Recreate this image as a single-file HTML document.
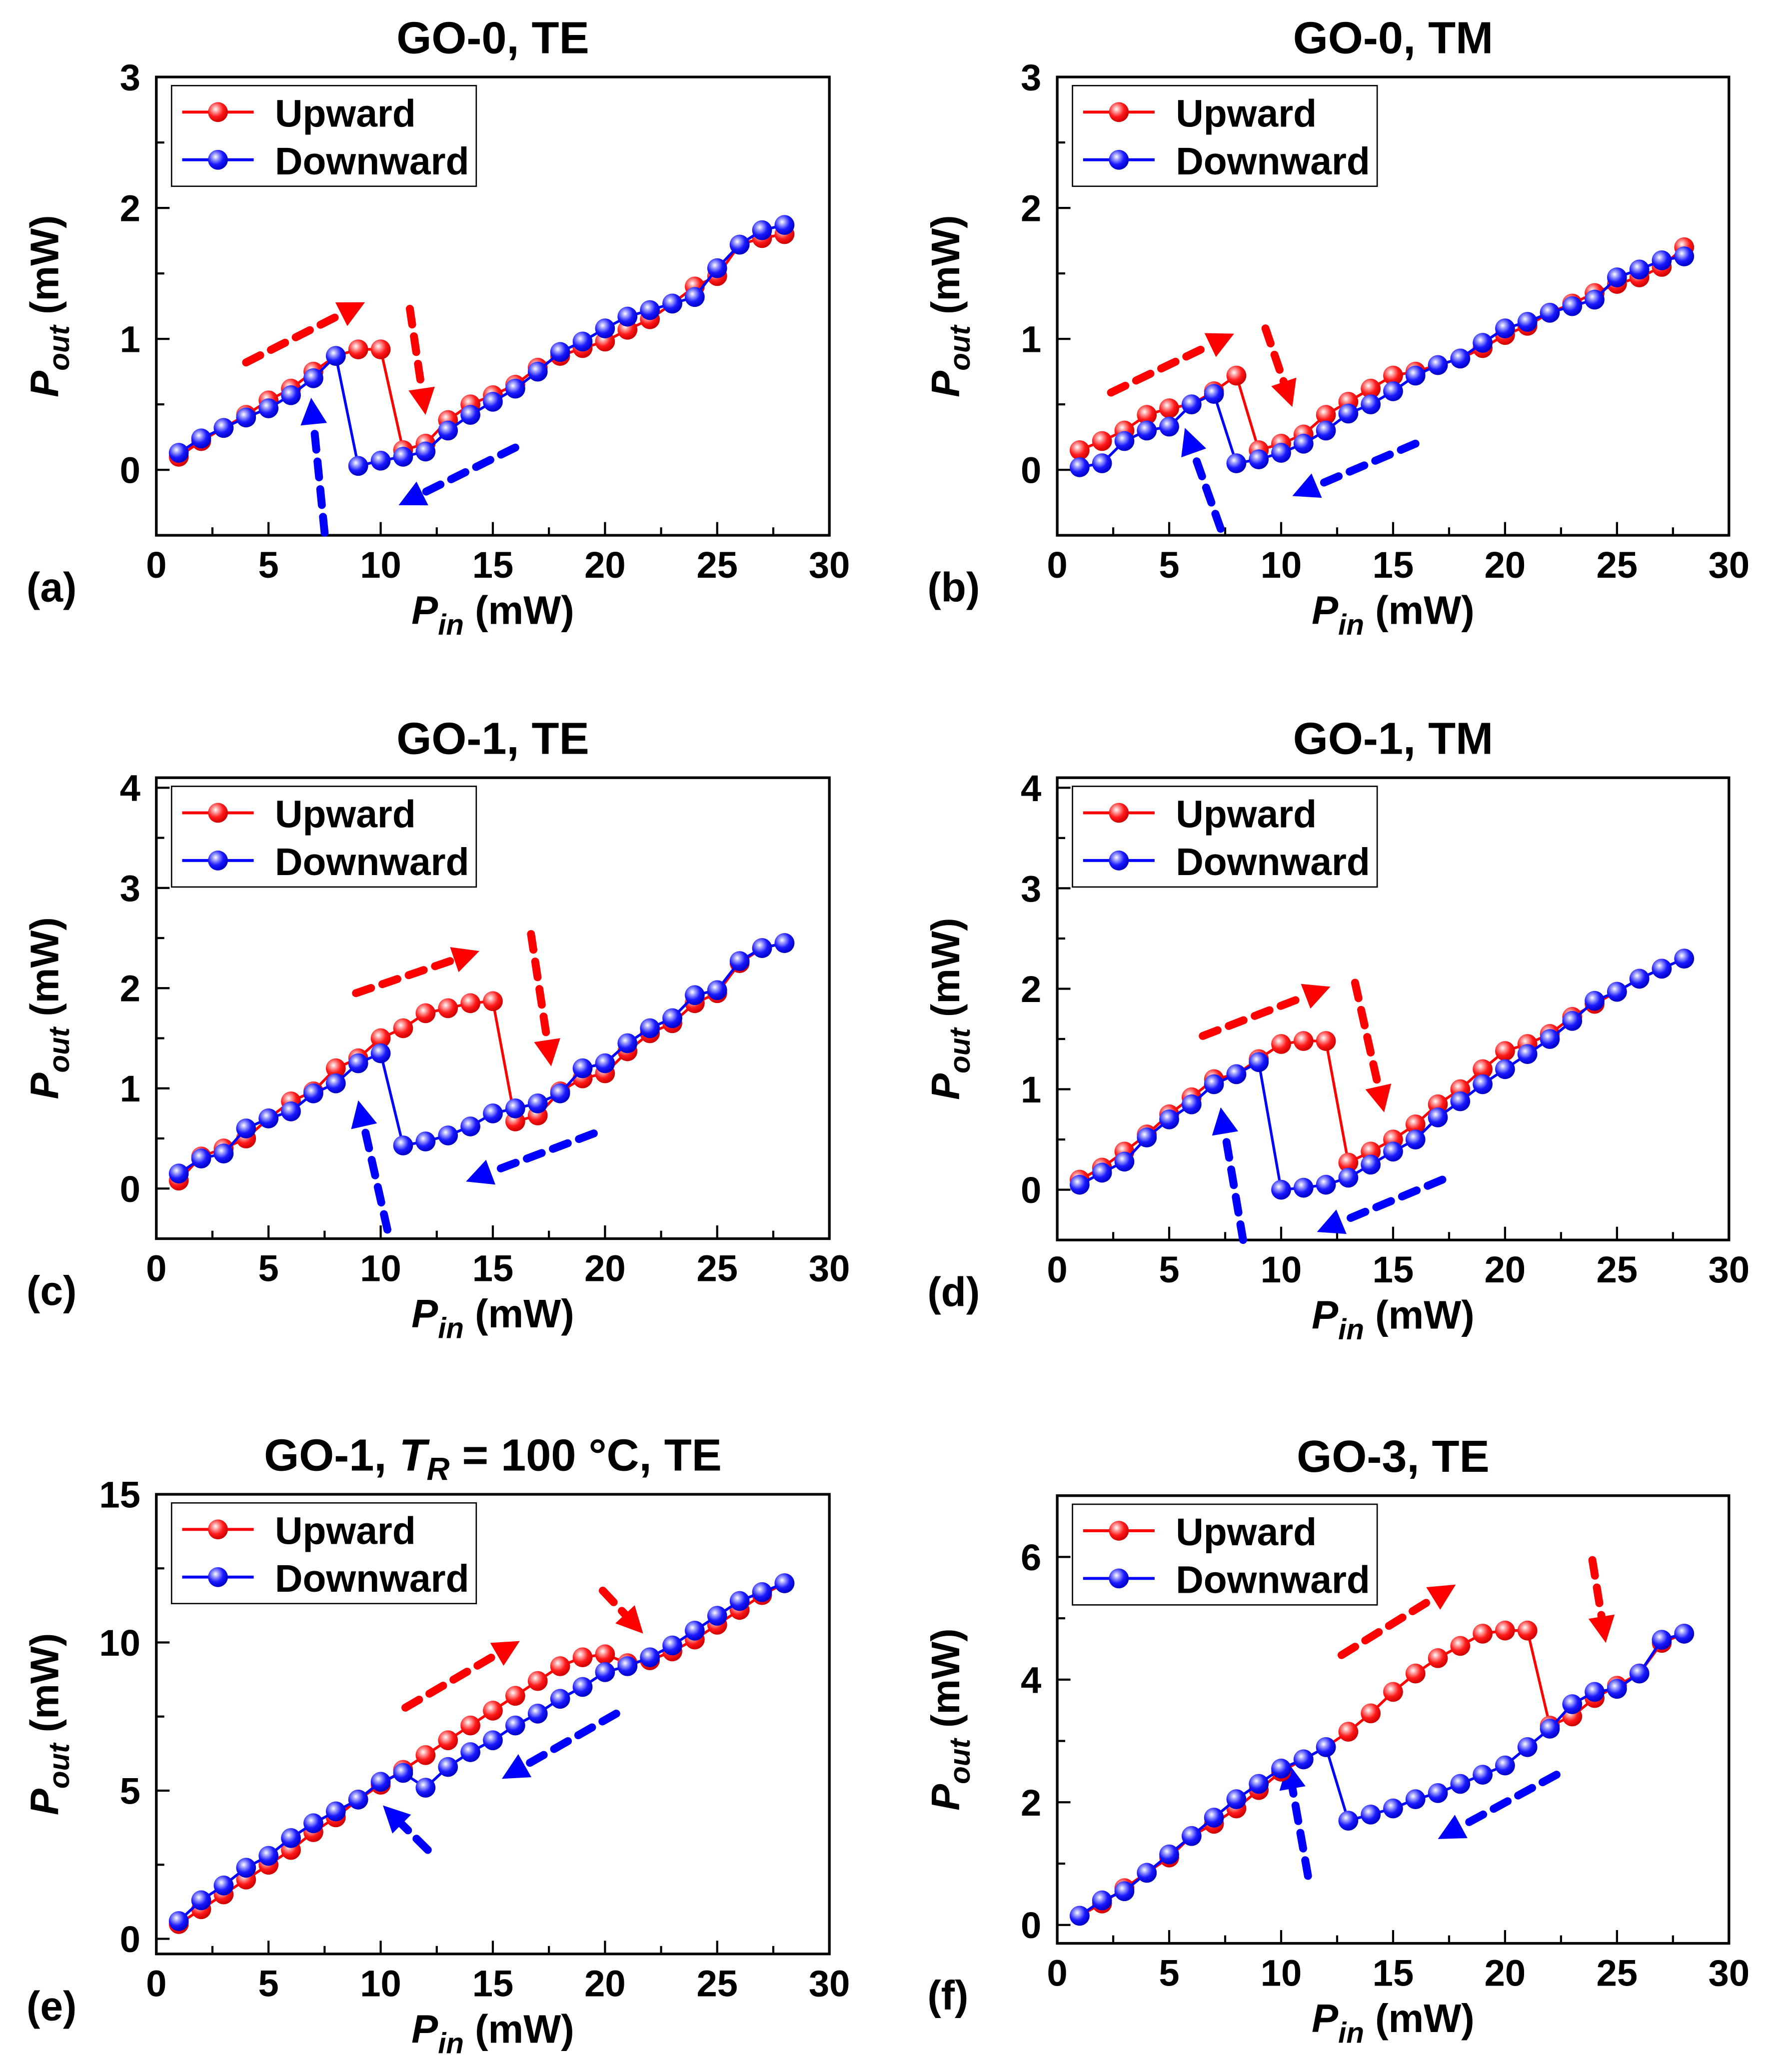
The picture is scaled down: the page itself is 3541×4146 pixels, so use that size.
<!DOCTYPE html>
<html><head><meta charset="utf-8">
<style>
html,body{margin:0;padding:0;background:#fff;}
svg{display:block;}
text{font-family:"Liberation Sans",Arial,sans-serif;font-weight:bold;fill:#000;}
</style></head>
<body>
<svg id="fig" xmlns="http://www.w3.org/2000/svg" width="3541" height="4146" viewBox="0 0 1336 1564">
<defs>
<radialGradient id="gRed" cx="0.38" cy="0.35" r="0.65">
<stop offset="0" stop-color="#fff"/><stop offset="0.25" stop-color="#ff9a9a"/><stop offset="0.6" stop-color="#ff1a1a"/><stop offset="1" stop-color="#d00000"/></radialGradient>
<radialGradient id="gBlue" cx="0.38" cy="0.35" r="0.65">
<stop offset="0" stop-color="#fff"/><stop offset="0.25" stop-color="#9a9aff"/><stop offset="0.6" stop-color="#1a1aff"/><stop offset="1" stop-color="#0000c8"/></radialGradient>
</defs>
</svg>
<script>
const xValues = [1,2,3,4,5,6,7,8,9,10,11,12,13,14,15,16,17,18,19,20,21,22,23,24,25,26,27,28];
const xTicks = [0,5,10,15,20,25,30];
const upA = [0.1,0.22,0.32,0.42,0.53,0.62,0.75,0.87,0.92,0.92,0.15,0.2,0.38,0.5,0.57,0.65,0.78,0.87,0.93,0.98,1.07,1.15,1.27,1.4,1.48,1.72,1.77,1.8];
const downA = [0.13,0.24,0.32,0.4,0.47,0.57,0.7,0.87,0.03,0.07,0.1,0.14,0.3,0.42,0.52,0.62,0.75,0.9,0.98,1.08,1.17,1.22,1.27,1.32,1.54,1.72,1.83,1.87];
const upB = [0.15,0.22,0.3,0.42,0.47,0.5,0.6,0.72,0.15,0.2,0.27,0.42,0.52,0.62,0.72,0.75,0.8,0.85,0.93,1.03,1.1,1.2,1.27,1.35,1.42,1.47,1.55,1.7];
const downB = [0.02,0.05,0.22,0.3,0.33,0.5,0.58,0.05,0.08,0.13,0.2,0.3,0.43,0.5,0.6,0.72,0.8,0.85,0.97,1.08,1.13,1.2,1.25,1.3,1.47,1.53,1.6,1.63];
const upC = [0.08,0.32,0.4,0.5,0.7,0.87,0.97,1.2,1.3,1.5,1.6,1.75,1.8,1.85,1.87,0.67,0.73,0.97,1.1,1.15,1.37,1.55,1.65,1.85,1.95,2.25,2.4,2.45];
const downC = [0.15,0.3,0.35,0.6,0.7,0.77,0.95,1.05,1.25,1.35,0.43,0.47,0.53,0.62,0.75,0.8,0.85,0.95,1.2,1.25,1.45,1.6,1.7,1.93,1.98,2.27,2.4,2.45];
const upD = [0.1,0.22,0.38,0.55,0.75,0.92,1.1,1.15,1.3,1.45,1.48,1.48,0.27,0.38,0.5,0.65,0.85,1.0,1.2,1.38,1.45,1.55,1.72,1.85,1.97,2.1,2.2,2.3];
const downD = [0.05,0.17,0.28,0.52,0.7,0.85,1.05,1.15,1.27,0.0,0.02,0.05,0.12,0.25,0.38,0.5,0.72,0.88,1.05,1.2,1.35,1.5,1.68,1.88,1.97,2.1,2.2,2.3];
const upE = [0.5,1.0,1.5,2.0,2.5,3.0,3.6,4.1,4.7,5.2,5.7,6.2,6.7,7.2,7.7,8.2,8.7,9.2,9.5,9.6,9.3,9.4,9.7,10.1,10.6,11.1,11.6,12.0];
const downE = [0.6,1.3,1.8,2.4,2.8,3.4,3.9,4.3,4.7,5.3,5.6,5.1,5.8,6.3,6.7,7.2,7.6,8.1,8.5,9.0,9.2,9.5,9.9,10.4,10.9,11.4,11.7,12.0];
const upF = [0.15,0.35,0.6,0.85,1.1,1.45,1.65,1.9,2.2,2.5,2.7,2.9,3.15,3.45,3.8,4.1,4.35,4.55,4.75,4.8,4.8,3.25,3.4,3.7,3.9,4.1,4.6,4.75];
const downF = [0.15,0.4,0.55,0.85,1.15,1.45,1.75,2.05,2.3,2.55,2.7,2.9,1.7,1.8,1.9,2.05,2.15,2.3,2.45,2.6,2.9,3.2,3.6,3.8,3.85,4.1,4.65,4.75];
const yTicksABCD = [[0,1,2,3],[0,1,2,3],[0,1,2,3,4],[0,1,2,3,4]];
const yTicksE = [0,5,10,15];
const yTicksF = [0,2,4,6];
const arrowsA = [['r',4,0.82,9.3,1.28],['r',11.3,1.23,12,0.42],['b',7.5,-0.48,6.9,0.55],['b',16,0.17,10.8,-0.27]];
const arrowsB = [['r',2.4,0.59,7.9,1.04],['r',9.3,1.08,10.5,0.48],['b',7.3,-0.45,5.7,0.32],['b',16,0.2,10.5,-0.2]];
const arrowsC = [['r',8.9,1.95,14.4,2.37],['r',16.7,2.54,17.6,1.22],['b',10.3,-0.41,9,0.88],['b',19.5,0.55,13.8,0.07]];
const arrowsD = [['r',6.5,1.53,12.2,2.02],['r',13.3,2.06,14.6,0.77],['b',8.3,-0.5,7.3,0.82],['b',17.2,0.1,11.6,-0.42]];
const arrowsE = [['r',11.1,7.8,16.2,10.05],['r',19.9,11.75,21.7,10.3],['b',12.1,3.0,10.1,4.5],['b',20.5,7.6,15.4,5.4]];
const arrowsF = [['r',12.7,4.4,17.8,5.55],['r',23.9,5.95,24.5,4.6],['b',11.2,0.8,10.3,2.65],['b',22.3,2.45,17,1.4]];

const NS='http://www.w3.org/2000/svg';
const svg=document.getElementById('fig');
function mk(tag,attrs,parent){const e=document.createElementNS(NS,tag);for(const k in attrs)e.setAttribute(k,attrs[k]);(parent||svg).appendChild(e);return e;}

const panels=[
 {id:'a',x0:118,x1:626,top:58,bot:404,ymin:-0.5,ymax:3,yt:yTicksABCD[0],minor:0.5,up:upA,down:downA,arr:arrowsA,title:'GO-0, TE'},
 {id:'b',x0:798,x1:1305,top:58,bot:404,ymin:-0.5,ymax:3,yt:yTicksABCD[1],minor:0.5,up:upB,down:downB,arr:arrowsB,title:'GO-0, TM'},
 {id:'c',x0:118,x1:626,top:587,bot:935,ymin:-0.5,ymax:4.1,yt:yTicksABCD[2],minor:0.5,up:upC,down:downC,arr:arrowsC,title:'GO-1, TE'},
 {id:'d',x0:798,x1:1305,top:587,bot:936,ymin:-0.5,ymax:4.1,yt:yTicksABCD[3],minor:0.5,up:upD,down:downD,arr:arrowsD,title:'GO-1, TM'},
 {id:'e',x0:118,x1:626,top:1128,bot:1475,ymin:-0.51,ymax:15,yt:yTicksE,minor:2.5,up:upE,down:downE,arr:arrowsE,title:null},
 {id:'f',x0:798,x1:1305,top:1129,bot:1467,ymin:-0.3,ymax:7,yt:yTicksF,minor:1,up:upF,down:downF,arr:arrowsF,title:'GO-3, TE'}
];

panels.forEach(p=>{
 const g=mk('g',{});
 
 
 const X=v=>p.x0+(v-0)/30*(p.x1-p.x0);
 const Y=v=>p.bot-(v-p.ymin)/(p.ymax-p.ymin)*(p.bot-p.top);
 const cx=(p.x0+p.x1)/2;
 let t;
 if(p.title){t=mk('text',{x:cx,y:p.top-18,'text-anchor':'middle','font-size':34},g);t.textContent=p.title;}
 else{t=mk('text',{x:cx,y:p.top-18,'text-anchor':'middle','font-size':34},g);
  t.innerHTML='GO-1, <tspan font-style="italic">T</tspan><tspan font-style="italic" font-size="24" dy="7">R</tspan><tspan dy="-7"> = 100 °C, TE</tspan>';}
 
 
 const fr=mk('rect',{x:p.x0,y:p.top,width:p.x1-p.x0,height:p.bot-p.top,fill:'none',stroke:'#000','stroke-width':2},g);
 
 
 for(let v=0;v<=30;v+=2.5){
  const major=v%5===0;
  mk('line',{x1:X(v),x2:X(v),y1:p.bot,y2:p.bot-(major?10:6),stroke:'#000','stroke-width':1.6},g);
 }
 xTicks.forEach(v=>{const tl=mk('text',{x:X(v),y:p.bot+32,'text-anchor':'middle','font-size':28},g);tl.textContent=v;
  
  });
 for(let v=Math.ceil(p.ymin/p.minor)*p.minor;v<=p.ymax+1e-9;v+=p.minor){
  const major=Math.abs(v/(p.yt[1]-p.yt[0])-Math.round(v/(p.yt[1]-p.yt[0])))<1e-6;
  mk('line',{x1:p.x0,x2:p.x0+(major?10:6),y1:Y(v),y2:Y(v),stroke:'#000','stroke-width':1.6},g);
 }
 p.yt.forEach(v=>{const tl=mk('text',{x:p.x0-12,y:Y(v)+10,'text-anchor':'end','font-size':28},g);tl.textContent=v;
  
  });
 const xl=mk('text',{x:cx,y:p.bot+67,'text-anchor':'middle','font-size':30},g);
 xl.innerHTML='<tspan font-style="italic">P</tspan><tspan font-style="italic" font-size="22" dy="8">in</tspan><tspan dy="-8"> (mW)</tspan>';
 
 
 const ym=(p.top+p.bot)/2;
 const yl=mk('text',{x:0,y:0,'text-anchor':'middle','font-size':30,transform:`translate(${p.x0-74},${ym}) rotate(-90)`},g);
 yl.innerHTML='<tspan font-style="italic">P</tspan><tspan font-style="italic" font-size="22" dy="8">out</tspan><tspan dy="-8"> (mW)</tspan>';
 
 
 const pl=mk('text',{x:p.x0-98,y:p.bot+50,'font-size':31},g);
 pl.textContent='('+p.id+')';
 
 
 p.arr.forEach(a=>{
  const col=a[0]==='r'?'#ff0000':'#0000ff';
  const x1=X(a[1]),y1=Y(a[2]),x2=X(a[3]),y2=Y(a[4]);
  const L=Math.hypot(x2-x1,y2-y1),ux=(x2-x1)/L,uy=(y2-y1)/L;
  const hl=20,hw=10;
  const bx=x2-ux*hl,by=y2-uy*hl;
  const ag=mk('g',{},g);
  
  
  mk('line',{x1:x1,y1:y1,x2:bx,y2:by,stroke:col,'stroke-width':6,'stroke-dasharray':'12,9','stroke-linecap':'round'},ag);
  mk('polygon',{points:`${x2},${y2} ${bx-uy*hw},${by+ux*hw} ${bx+uy*hw},${by-ux*hw}`,fill:col},ag);
 });
 [[p.up,'#ff0000','gRed','series-upward'],[p.down,'#0000ff','gBlue','series-downward']].forEach(s=>{
  const sg=mk('g',{},g);
  
  
  mk('polyline',{points:xValues.map((x,i)=>X(x)+','+Y(s[0][i])).join(' '),fill:'none',stroke:s[1],'stroke-width':2},sg);
  xValues.forEach((x,i)=>{const c=mk('circle',{cx:X(x),cy:Y(s[0][i]),r:7.5,fill:'url(#'+s[2]+')'},sg);
   
   });
 });
 const lx=p.x0+11.5,ly=p.top+6.5;
 const lg=mk('g',{},g);
 
 
 mk('rect',{x:lx,y:ly,width:230,height:76,fill:'#fff',stroke:'#000','stroke-width':1},lg);
 [['Upward','#ff0000','gRed',20],['Downward','#0000ff','gBlue',56]].forEach(e=>{
  const eg=mk('g',{},lg);
  
  
  mk('line',{x1:lx+8,x2:lx+62,y1:ly+e[3],y2:ly+e[3],stroke:e[1],'stroke-width':2.2},eg);
  mk('circle',{cx:lx+35,cy:ly+e[3],r:7.5,fill:'url(#'+e[2]+')'},eg);
  const tt=mk('text',{x:lx+78,y:ly+e[3]+11,'font-size':29},eg);tt.textContent=e[0];
 });
});
</script>
</body></html>
